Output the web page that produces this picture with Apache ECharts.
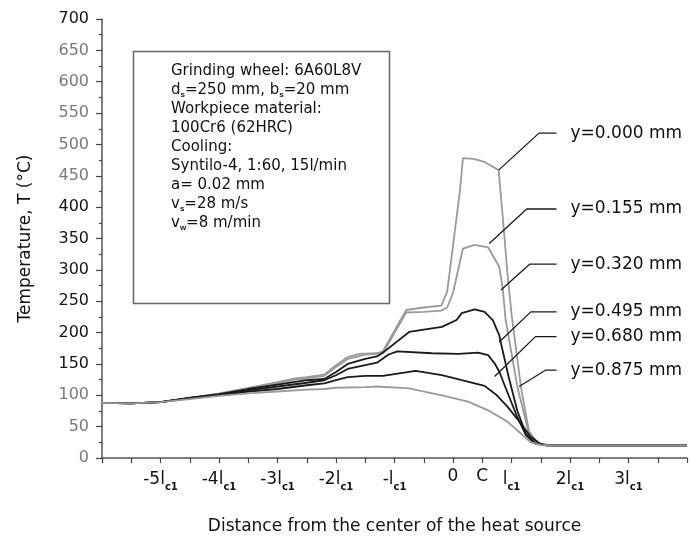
<!DOCTYPE html>
<html>
<head>
<meta charset="utf-8">
<script src="https://cdn.jsdelivr.net/npm/echarts@6/dist/echarts.min.js"></script>
<style>
html,body{margin:0;padding:0;background:#fff;}
#chart{width:690px;height:540px;}
</style>
</head>
<body>
<div id="chart"></div>
<script>
// ---- data (x in units of l_c1, T in °C) ----
const seriesNames = ['y=0.000 mm','y=0.155 mm','y=0.320 mm','y=0.495 mm','y=0.680 mm','y=0.875 mm'];

const y000 = [[-6,88],[-5.5,87],[-5,89],[-4.5,96],[-4,103],[-3.5,112],[-3,121],[-2.7,127],[-2.5,129],[-2.2,133],[-2.0,148],[-1.8,161],[-1.6,166],[-1.3,167],[-1.2,170],[-0.8,236],[-0.5,240],[-0.2,243],[-0.1,265],[0.12,427],[0.17,478],[0.35,477],[0.54,472],[0.78,459],[0.85,385],[0.93,295],[1.0,230],[1.16,114],[1.3,42],[1.45,24],[1.6,20],[4,20]];
const y155 = [[-6,88],[-5.5,87],[-5,89],[-4.5,96],[-4,102],[-3.5,111],[-3,119],[-2.7,125],[-2.5,127],[-2.2,131],[-2.0,145],[-1.8,158],[-1.5,165],[-1.2,167],[-0.8,232],[-0.5,233],[-0.2,235],[-0.1,240],[0.0,263],[0.17,334],[0.37,340],[0.6,336],[0.79,305],[0.85,270],[0.9,220],[1.1,114],[1.3,38],[1.45,23],[1.6,20],[4,20]];
const y320 = [[-6,88],[-5.5,87],[-5,89],[-4.5,96],[-4,102],[-3.5,110],[-3,117],[-2.5,124],[-2.2,126],[-2.0,137],[-1.8,150],[-1.5,158],[-1.3,162],[-1.17,170],[-0.75,201],[-0.47,205],[-0.19,209],[0.06,220],[0.15,231],[0.37,237],[0.54,233],[0.68,220],[0.79,196],[0.82,183],[0.95,130],[1.1,75],[1.25,38],[1.4,24],[1.6,20],[4,20]];
const y495 = [[-6,88],[-5.5,87],[-5,89],[-4.5,96],[-4,101],[-3.5,108],[-3,114],[-2.5,120],[-2.2,124],[-2.0,132],[-1.8,142],[-1.5,148],[-1.3,152],[-1.1,165],[-0.95,170],[-0.36,167],[0.09,166],[0.43,168],[0.6,164],[0.71,151],[0.79,138],[0.95,100],[1.1,65],[1.25,36],[1.4,23],[1.6,20],[4,20]];
const y680 = [[-6,88],[-5.5,87],[-5,89],[-4.5,95],[-4,100],[-3.5,106],[-3,110],[-2.5,116],[-2.2,119],[-2.0,124],[-1.8,129],[-1.5,131],[-1.2,131],[-0.64,139],[-0.19,132],[0.15,124],[0.54,115],[0.75,100],[0.93,82],[1.16,55],[1.33,34],[1.5,22],[1.7,20],[4,20]];
const y875 = [[-6,88],[-5.5,87],[-5,89],[-4.5,94],[-4,99],[-3.5,103],[-3,106],[-2.5,109],[-2.2,110],[-2.0,112],[-1.5,113],[-1.3,114],[-0.75,111],[-0.19,100],[0.26,90],[0.6,76],[0.93,58],[1.16,39],[1.33,25],[1.5,21],[1.7,20],[4,20]];

// leader lines from curves to their labels
const lead000 = [[0.78,459],[1.47,518],[1.77,518]];
const lead155 = [[0.62,342],[1.26,397],[1.77,397]];
const lead320 = [[0.82,268],[1.31,309],[1.77,309]];
const lead495 = [[0.79,185],[1.33,233],[1.77,233]];
const lead680 = [[0.71,130],[1.41,193.5],[1.77,193.5]];
const lead875 = [[1.13,114],[1.58,140],[1.77,140]];

// axis tick labels
const xTickValues = [-5,-4,-3,-2,-1,0,0.5,1,2,3];
const xTickMain   = ['-5l','-4l','-3l','-2l','-l','0','C','l','2l','3l'];
const xTickSub    = ['c1','c1','c1','c1','c1','','','c1','c1','c1'];
const yTicksFaint = [0,50,100,450,500,550,600,650];

const infoLines = [
  'Grinding wheel: 6A60L8V',
  'd{s|s}=250 mm, b{s|s}=20 mm',
  'Workpiece material:',
  '100Cr6 (62HRC)',
  'Cooling:',
  'Syntilo-4, 1:60, 15l/min',
  'a= 0.02 mm',
  'v{s|s}=28 m/s',
  'v{s|w}=8 m/min'
];

const FONT = 'DejaVu Sans';
const GRAY = '#9a9a9a';
const BLACK = '#1a1a1a';

const curves = [y000, y155, y320, y495, y680, y875];
const leaders = [lead000, lead155, lead320, lead495, lead680, lead875];
const curveColors = [GRAY, GRAY, BLACK, BLACK, BLACK, GRAY];

const chart = echarts.init(document.getElementById('chart'), null, {renderer: 'canvas'});

const series = [];
curves.forEach((d, i) => {
  series.push({
    name: seriesNames[i],
    type: 'line',
    data: d,
    showSymbol: false,
    smooth: false,
    lineStyle: {width: 1.8, color: curveColors[i]},
    itemStyle: {color: curveColors[i]},
    z: 3
  });
});
leaders.forEach((d, i) => {
  series.push({
    name: 'lead-' + seriesNames[i],
    type: 'line',
    data: d,
    showSymbol: false,
    lineStyle: {width: 1.3, color: BLACK},
    itemStyle: {color: BLACK},
    endLabel: {
      show: true,
      formatter: () => seriesNames[i],
      distance: 14,
      fontFamily: FONT,
      fontSize: 17,
      color: '#111'
    },
    z: 4
  });
});

const option = {
  backgroundColor: '#fff',
  animation: false,
  textStyle: {fontFamily: FONT},
  grid: {left: 102, top: 19, width: 593, height: 439},
  visualMap: [
    {type: 'piecewise', show: false, dimension: 0, seriesIndex: 1,
     pieces: [{lt: -1.2, color: GRAY}, {gte: -1.2, lt: -0.85, color: BLACK}, {gte: -0.85, lt: 0.57, color: GRAY}, {gte: 0.57, lt: 0.9, color: BLACK}, {gte: 0.9, color: GRAY}]},
    {type: 'piecewise', show: false, dimension: 0, seriesIndex: 2,
     pieces: [{lt: -1.25, color: GRAY}, {gte: -1.25, lt: 0.85, color: BLACK}, {gte: 0.85, color: GRAY}]},
    {type: 'piecewise', show: false, dimension: 0, seriesIndex: 3,
     pieces: [{lt: -0.45, color: GRAY}, {gte: -0.45, lt: 0.82, color: BLACK}, {gte: 0.82, color: GRAY}]},
    {type: 'piecewise', show: false, dimension: 0, seriesIndex: 4,
     pieces: [{lt: -1.25, color: GRAY}, {gte: -1.25, lt: 0.56, color: BLACK}, {gte: 0.56, color: GRAY}]}
  ],
  xAxis: {
    type: 'value',
    min: -6, max: 4, interval: 0.5,
    name: 'Distance from the center of the heat source',
    nameLocation: 'middle',
    nameGap: 60,
    nameTextStyle: {fontFamily: FONT, fontSize: 17, color: '#111'},
    axisLine: {onZero: false, lineStyle: {color: '#555', width: 1.5}},
    axisTick: {show: true, inside: false, length: 5, lineStyle: {color: '#444', width: 1.2}},
    splitLine: {show: false},
    axisLabel: {
      margin: 10,
      color: '#111',
      formatter: (v) => {
        const i = xTickValues.findIndex(t => Math.abs(t - v) < 1e-6);
        if (i < 0) return '';
        return xTickSub[i] ? '{m|' + xTickMain[i] + '}{s|' + xTickSub[i] + '}' : '{m|' + xTickMain[i] + '}';
      },
      rich: {
        m: {fontFamily: FONT, fontSize: 17, color: '#111'},
        s: {fontFamily: FONT, fontSize: 10, fontWeight: 'bold', color: '#111', padding: [14, 0, 0, 0]}
      }
    }
  },
  yAxis: {
    type: 'value',
    min: 0, max: 700, interval: 50,
    name: 'Temperature, T (°C)',
    nameLocation: 'middle',
    nameGap: 68,
    nameTextStyle: {fontFamily: FONT, fontSize: 17, color: '#111'},
    axisLine: {show: true, onZero: false, lineStyle: {color: '#555', width: 1.5}},
    axisTick: {show: true, inside: false, length: 6, lineStyle: {color: '#444', width: 1.2}},
    minorTick: {show: true, splitNumber: 2, length: 3, lineStyle: {color: '#444', width: 1.2}},
    splitLine: {show: false},
    axisLabel: {
      margin: 13,
      formatter: (v) => (yTicksFaint.indexOf(v) >= 0 ? '{f|' + v + '}' : '{d|' + v + '}'),
      rich: {
        f: {fontFamily: FONT, fontSize: 16, color: '#7a7a7a'},
        d: {fontFamily: FONT, fontSize: 16, color: '#151515'}
      }
    }
  },
  graphic: [
    {
      type: 'rect',
      left: 131, top: 49,
      shape: {width: 256, height: 252},
      style: {fill: 'none', stroke: '#666', lineWidth: 1.5},
      z: 10
    },
    {
      type: 'text',
      left: 171, top: 62,
      style: {
        text: infoLines.join('\n'),
        fontFamily: FONT,
        fontSize: 15,
        lineHeight: 19,
        fill: '#111',
        rich: {
          s: {fontSize: 8, fontWeight: 'bold', fill: '#111', padding: [8, 0, 0, 0], lineHeight: 19}
        }
      },
      z: 10
    }
  ],
  series: series
};
chart.setOption(option);
</script>
</body>
</html>
